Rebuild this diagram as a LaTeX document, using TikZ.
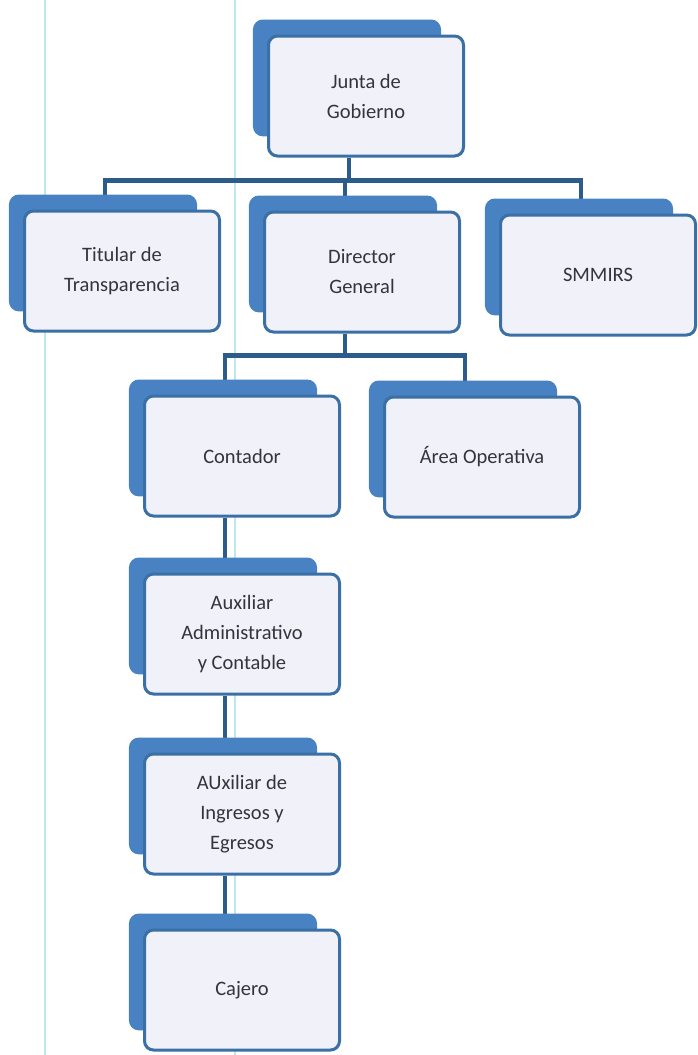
\documentclass[tikz,border=0pt]{standalone}
\usepackage{fontspec}
\setmainfont{Carlito}
\usetikzlibrary{shadows,backgrounds}

\definecolor{backblue}{RGB}{72,130,194}
\definecolor{edgeblue}{RGB}{58,112,165}
\definecolor{paleblue}{RGB}{241,242,249}
\definecolor{linkblue}{RGB}{44,92,138}
\definecolor{textgray}{RGB}{52,52,58}
\definecolor{ruleline}{RGB}{190,232,240}

\begin{document}
\begin{tikzpicture}[x=1pt, y=-1pt,
    unit/.style = {draw=edgeblue, line width=3pt, fill=paleblue, rounded corners=9pt,
        minimum width=195pt, minimum height=120pt, align=center, text=textgray,
        font=\fontsize{20.5}{30}\selectfont,
        general shadow={fill=backblue, draw=backblue, shadow xshift=-20pt,
            shadow yshift=19pt, shadow scale=0.95}},
    link/.style = {draw=linkblue, line width=4.5pt}]
    \useasboundingbox (0,0) rectangle (697,1055);
    % top
    \node[unit] (junta) at (366,96) {Junta de\\Gobierno};
    % second row
    \node[unit] (titular) at (122,271) {Titular de\\Transparencia};
    \node[unit] (director) at (362,272) {Director\\General};
    \node[unit] (smmirs) at (598,275) {SMMIRS};
    % third row
    \node[unit] (contador) at (242,456) {Contador};
    \node[unit] (area) at (482,457) {Área Operativa};
    % column under Contador
    \node[unit] (auxadm) at (242,634) {Auxiliar\\Administrativo\\y Contable};
    \node[unit] (auxing) at (242,814) {AUxiliar de\\Ingresos y\\Egresos};
    \node[unit] (cajero) at (242,990) {Cajero};
    \begin{scope}[on background layer]
        \fill[white] (0,0) rectangle (697,1055);
        \draw[ruleline, line width=1.5pt] (45,0) -- (45,1055);
        \draw[ruleline, line width=1.5pt] (235,0) -- (235,1055);
        \foreach \child in {titular,director,smmirs}
            \draw[link] ([xshift=-17pt]junta.south) -- ++(0,23) -| ([xshift=-17pt]\child.north);
        \foreach \child in {contador,area}
            \draw[link] ([xshift=-17pt]director.south) -- ++(0,22) -| ([xshift=-17pt]\child.north);
        \draw[link] ([xshift=-17pt]contador.south) -- ([xshift=-17pt]auxadm.north);
        \draw[link] ([xshift=-17pt]auxadm.south) -- ([xshift=-17pt]auxing.north);
        \draw[link] ([xshift=-17pt]auxing.south) -- ([xshift=-17pt]cajero.north);
    \end{scope}
\end{tikzpicture}
\end{document}
